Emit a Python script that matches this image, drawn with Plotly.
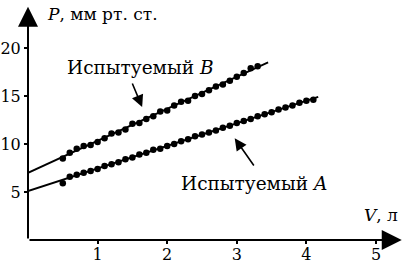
import plotly.graph_objects as go

# Data
V_B = [0.5, 0.6, 0.7, 0.8, 0.9, 1.0, 1.1, 1.2, 1.3, 1.4, 1.5, 1.6, 1.7, 1.8, 1.9,
       2.0, 2.1, 2.2, 2.3, 2.4, 2.5, 2.6, 2.7, 2.8, 2.9, 3.0, 3.1, 3.2, 3.3]
P_B = [8.5, 9.1, 9.5, 9.8, 9.9, 10.2, 10.6, 11.1, 11.2, 11.5, 12.1, 12.2, 12.6, 12.9, 13.4,
       13.5, 14.0, 14.4, 14.5, 15.0, 15.2, 15.6, 16.0, 16.2, 16.6, 17.0, 17.4, 17.9, 18.1]

V_A = [0.5, 0.6, 0.7, 0.8, 0.9, 1.0, 1.1, 1.2, 1.3, 1.4, 1.5, 1.6, 1.7, 1.8, 1.9,
       2.0, 2.1, 2.2, 2.3, 2.4, 2.5, 2.6, 2.7, 2.8, 2.9, 3.0, 3.1, 3.2, 3.3, 3.4,
       3.5, 3.6, 3.7, 3.8, 3.9, 4.0, 4.1]
P_A = [5.9, 6.6, 6.8, 7.0, 7.2, 7.4, 7.7, 7.9, 8.1, 8.4, 8.6, 8.9, 9.1, 9.4, 9.5,
       9.8, 10.0, 10.3, 10.5, 10.8, 11.0, 11.2, 11.4, 11.7, 11.9, 12.2, 12.4, 12.6, 12.9, 13.1,
       13.3, 13.6, 13.8, 14.0, 14.3, 14.5, 14.6]

fit_B_V = [0.0, 3.45]
fit_B_P = [7.0, 18.5]
fit_A_V = [0.0, 4.17]
fit_A_P = [5.1, 14.9]

x_ticks = [1, 2, 3, 4, 5]
y_ticks = [5, 10, 15, 20]

label_B = "Испытуемый <i>B</i>"
label_A = "Испытуемый <i>A</i>"
y_title = "<i>P</i>, мм рт. ст."
x_title = "<i>V</i>, л"

FONT = "DejaVu Serif"

fig = go.Figure()
for vv, pp in [(fit_B_V, fit_B_P), (fit_A_V, fit_A_P)]:
    fig.add_trace(go.Scatter(x=vv, y=pp, mode="lines",
                             line=dict(color="black", width=1.8),
                             showlegend=False, cliponaxis=False, hoverinfo="skip"))
for vv, pp in [(V_B, P_B), (V_A, P_A)]:
    fig.add_trace(go.Scatter(x=vv, y=pp, mode="markers",
                             marker=dict(color="black", size=6.5),
                             showlegend=False, cliponaxis=False, hoverinfo="skip"))

XMAX = 5.345
YMAX = 24.17

ann = []
ann.append(dict(x=5.37, y=0, ax=0, ay=0, xref="x", yref="y", axref="x", ayref="y",
                text="", showarrow=True, arrowhead=2, arrowsize=2, arrowwidth=2,
                arrowcolor="black"))
ann.append(dict(x=0, y=24.3, ax=0, ay=0, xref="x", yref="y", axref="x", ayref="y",
                text="", showarrow=True, arrowhead=2, arrowsize=2, arrowwidth=2,
                arrowcolor="black"))
ann.append(dict(x=1.62, y=18.0, xref="x", yref="y", text=label_B, showarrow=False,
                font=dict(family=FONT, size=18.5, color="black")))
ann.append(dict(x=3.25, y=5.9, xref="x", yref="y", text=label_A, showarrow=False,
                font=dict(family=FONT, size=18.5, color="black")))
ann.append(dict(x=1.64, y=13.85, ax=1.49, ay=16.46, xref="x", yref="y", axref="x", ayref="y",
                text="", showarrow=True, arrowhead=2, arrowsize=1.5, arrowwidth=1.6,
                arrowcolor="black"))
ann.append(dict(x=2.97, y=10.6, ax=3.26, ay=7.6, xref="x", yref="y", axref="x", ayref="y",
                text="", showarrow=True, arrowhead=2, arrowsize=1.5, arrowwidth=1.6,
                arrowcolor="black"))
ann.append(dict(x=0.24, y=23.5, xref="x", yref="y", text=y_title, showarrow=False,
                xanchor="left", font=dict(family=FONT, size=17, color="black")))
ann.append(dict(x=5.34, y=2.6, xref="x", yref="y", text=x_title, showarrow=False,
                xanchor="right", font=dict(family=FONT, size=17, color="black")))
ann.append(dict(x=-0.26, y=-1.4, xref="x", yref="y", text="0", showarrow=False,
                font=dict(family=FONT, size=16, color="black")))

fig.update_layout(
    width=406, height=265, autosize=False,
    margin=dict(l=28, r=6, t=8, b=25),
    paper_bgcolor="white", plot_bgcolor="white",
    font=dict(family=FONT, color="black"),
    annotations=ann,
    hovermode=False,
    xaxis=dict(range=[0, XMAX], showgrid=False, zeroline=False, showline=False,
               automargin=False, fixedrange=True, ticklabelstandoff=-3,
               tickvals=x_ticks, ticks="outside", ticklen=3, tickwidth=2, tickcolor="black",
               tickfont=dict(family=FONT, size=16, color="black")),
    yaxis=dict(range=[0, YMAX], showgrid=False, zeroline=False, showline=False,
               automargin=False, fixedrange=True,
               tickvals=y_ticks, ticks="outside", ticklen=3, tickwidth=2, tickcolor="black",
               tickfont=dict(family=FONT, size=16, color="black")),
)

fig.write_html("out.html", config={"displayModeBar": False},
               post_script="document.body.style.margin='0';")
